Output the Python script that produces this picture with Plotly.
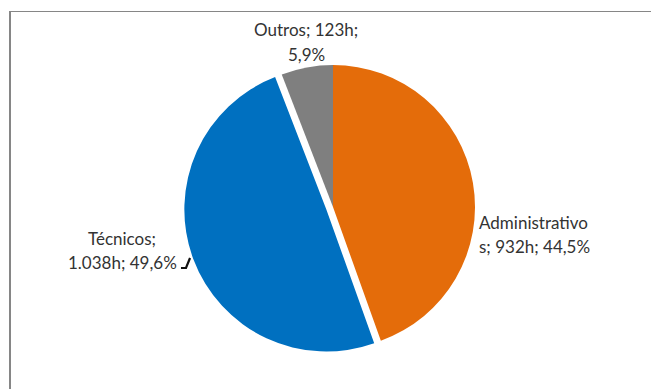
import textwrap
import plotly.graph_objects as go

# Horas por categoria
categorias = ["Administrativos", "Técnicos", "Outros"]
horas = [932, 1038, 123]
cores = ["#E46C0A", "#0070C0", "#7F7F7F"]
destaque = [0, 0.05, 0]

W, H = 651, 389


def fmt_horas(v):
    return f"{v:,}".replace(",", ".") + "h"


def fmt_pct(v, total):
    return f"{100 * v / total:.1f}".replace(".", ",") + "%"


total = sum(horas)
rotulos = [f"{c}; {fmt_horas(v)}; {fmt_pct(v, total)}" for c, v in zip(categorias, horas)]

# pie centred at (333, 207) px with radius ~142 px
cx, cy, r = 333, 207, 142
half = r * (1 + max(destaque))
dom_x = [(cx - half) / W, (cx + half) / W]
dom_y = [1 - (cy + half) / H, 1 - (cy - half) / H]

fig = go.Figure(go.Pie(
    labels=categorias,
    values=horas,
    marker=dict(colors=cores, line=dict(width=0)),
    pull=destaque,
    sort=False,
    direction="clockwise",
    rotation=0,
    textinfo="none",
    hoverinfo="label+value+percent",
    showlegend=False,
    domain=dict(x=dom_x, y=dom_y),
))

# label placement: (x px, first-line y px, anchor)
posicoes = {
    "Administrativos": (477, 222, "left"),
    "Técnicos": (122, 238, "center"),
    "Outros": (306, 30, "center"),
}
fonte = dict(family="Lato", size=17, color="#333333")
passo = 24
for cat, txt in zip(categorias, rotulos):
    x, y0, anc = posicoes[cat]
    for i, linha in enumerate(textwrap.wrap(txt, 14, break_long_words=True)):
        fig.add_annotation(
            x=x / W, y=1 - (y0 + i * passo) / H, xref="paper", yref="paper",
            text=linha, showarrow=False, xanchor=anc, yanchor="middle", font=fonte,
        )

def px(x, y):
    return f"{x / W:.4f},{1 - y / H:.4f}"

shapes = [
    # leader line for Técnicos
    dict(type="path", xref="paper", yref="paper",
         path=f"M {px(181, 268)} L {px(186, 268)} L {px(190, 258)}",
         line=dict(color="#111111", width=2.2)),
    # chart frame (top and left edges)
    dict(type="line", xref="paper", yref="paper", x0=9 / W, x1=1, y0=1 - 11.5 / H, y1=1 - 11.5 / H,
         line=dict(color="#868686", width=1)),
    dict(type="line", xref="paper", yref="paper", x0=10 / W, x1=10 / W, y0=1 - 11 / H, y1=0,
         line=dict(color="#868686", width=2)),
]

fig.update_layout(
    width=W, height=H,
    margin=dict(l=0, r=0, t=0, b=0),
    paper_bgcolor="white", plot_bgcolor="white",
    shapes=shapes,
)

fig.write_html("out.html")
